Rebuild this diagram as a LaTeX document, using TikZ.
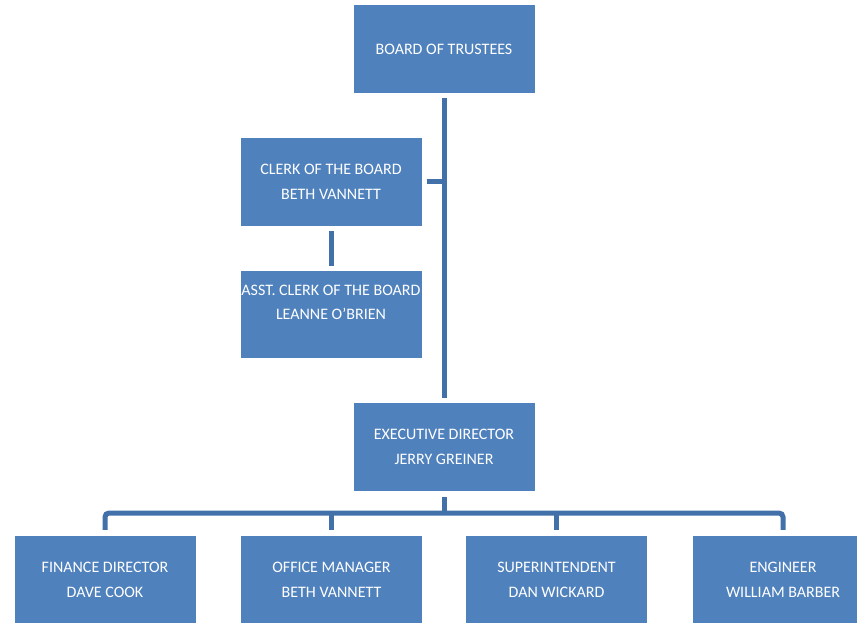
\documentclass[tikz,border=0pt]{standalone}
\usepackage{fontspec}
\setmainfont{Carlito}
\definecolor{boxblue}{HTML}{4F81BD}
\definecolor{lineblue}{RGB}{66,112,168}
\tikzset{
  x=1pt, y=-1pt,
  orgbox/.style = {rectangle, fill=boxblue, text=white, align=center, inner sep=0pt,
    minimum width=181pt, minimum height=88pt, font=\fontsize{16}{24.5}\selectfont},
  conn/.style = {draw=lineblue, line width=5pt}
}

\begin{document}
\begin{tikzpicture}
\useasboundingbox (0,0) rectangle (857,623);
% boxes
\node [orgbox] (board) at (444,49) {BOARD OF TRUSTEES};
\node [orgbox] (clerk) at (331,182) {CLERK OF THE BOARD\\BETH VANNETT};
\node [orgbox, minimum height=87pt] (asst) at (331,314.5) {ASST. CLERK OF THE BOARD\\LEANNE O’BRIEN\\~};
\node [orgbox] (exec) at (444,447) {EXECUTIVE DIRECTOR\\JERRY GREINER};
\node [orgbox] (fin) at (105,580) {FINANCE DIRECTOR\\DAVE COOK};
\node [orgbox] (off) at (331.5,580) {OFFICE MANAGER\\BETH VANNETT};
\node [orgbox] (sup) at (556.5,580) {SUPERINTENDENT\\DAN WICKARD};
\node [orgbox] (eng) at (783,580) {ENGINEER\\WILLIAM BARBER};
\coordinate (bus) at (444,513);
% connectors
\draw [conn, shorten <=5pt, shorten >=5pt] (board) -- (exec);
\draw [conn, shorten <=5pt] (clerk.east) -- (clerk.east -| board.south);
\draw [conn, shorten <=5pt, shorten >=5pt] (clerk) -- (asst);
\draw [conn, shorten <=6pt] (exec) -- (bus);
\draw [conn, rounded corners=4pt, shorten <=6pt, shorten >=6pt] (fin.north) |- (bus) -| (eng.north);
\draw [conn, shorten <=6pt] (off.north) -- (off.north |- bus);
\draw [conn, shorten <=6pt] (sup.north) -- (sup.north |- bus);
\end{tikzpicture}
\end{document}
